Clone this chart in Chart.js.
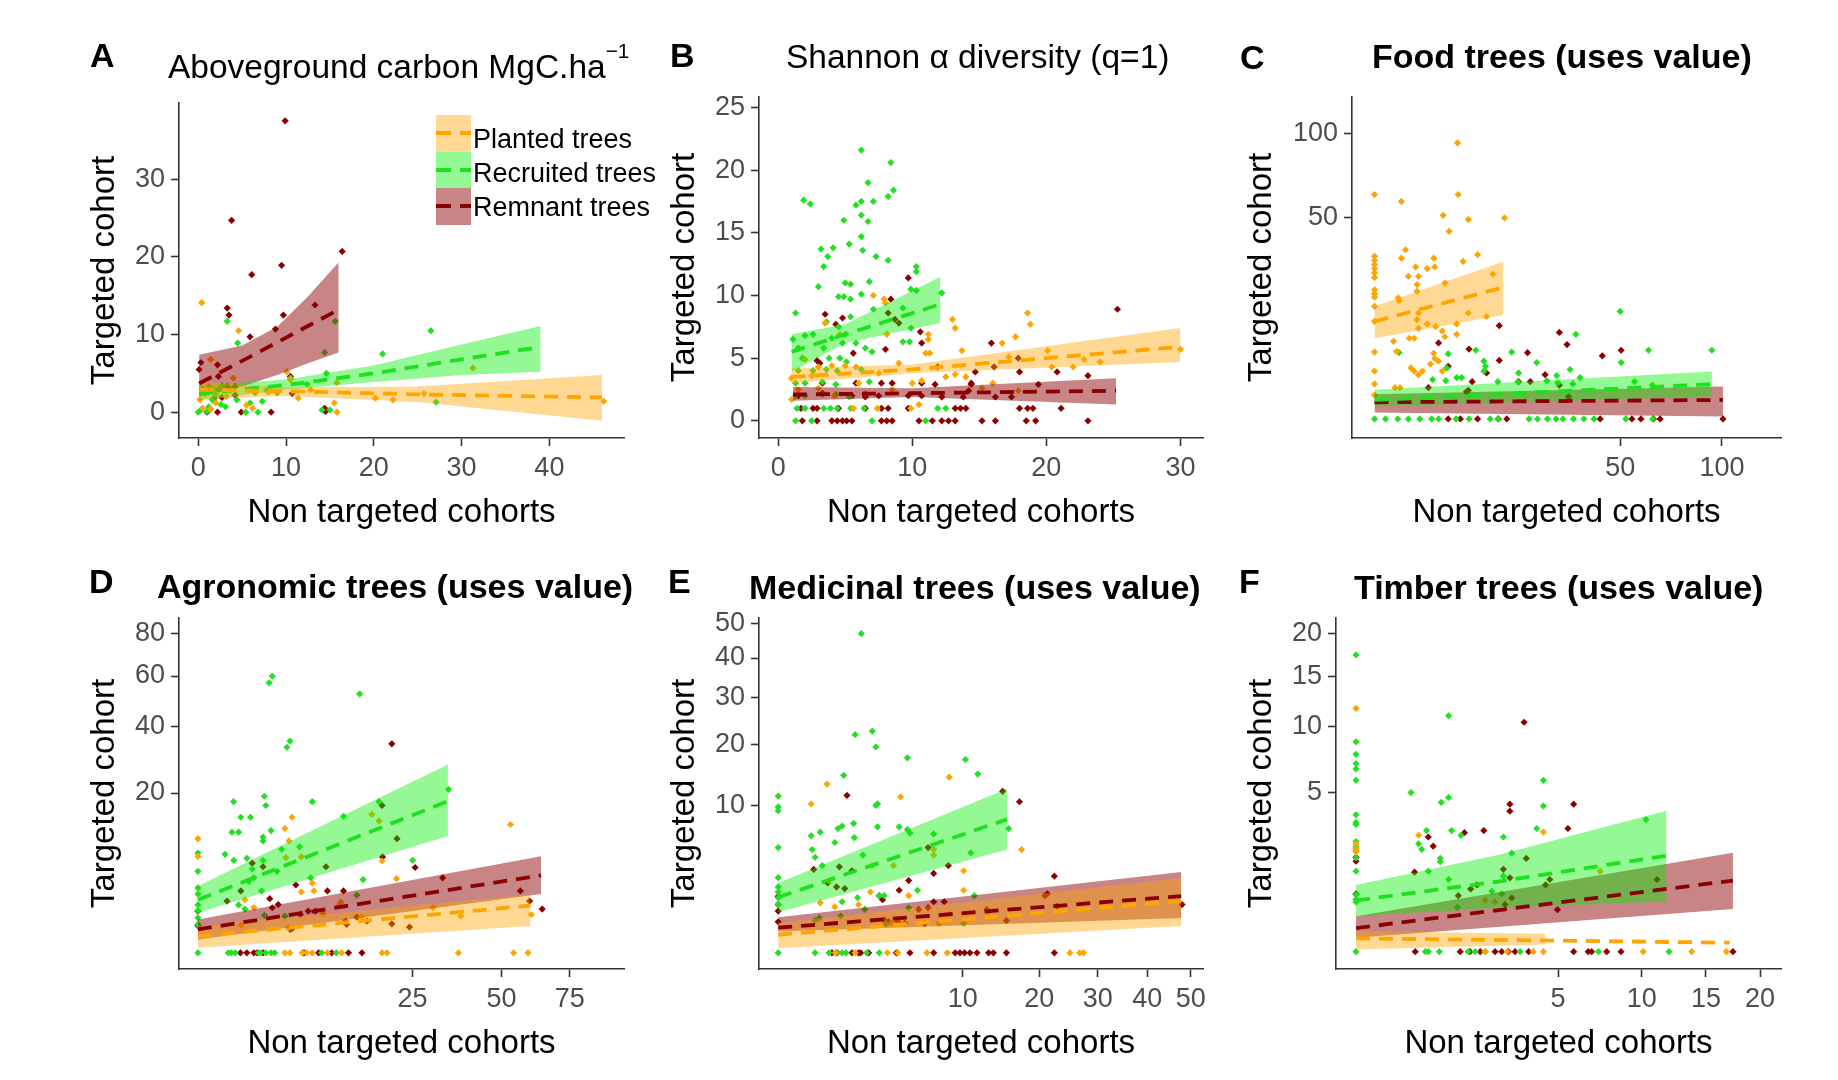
<!DOCTYPE html>
<html><head><meta charset="utf-8">
<script src="https://cdn.jsdelivr.net/npm/chart.js@4.4.1/dist/chart.umd.min.js"></script>
<style>
html,body{margin:0;padding:0;background:#fff;}
body{width:1838px;height:1080px;position:relative;overflow:hidden;font-family:"Liberation Sans",Arial,sans-serif;}
canvas{position:absolute;}
.t{position:absolute;white-space:nowrap;line-height:1;color:#000;}
.t sup{font-size:0.62em;vertical-align:baseline;position:relative;top:-0.95em;}
.key{position:absolute;width:35px;}
.key i{position:absolute;left:0;right:0;top:50%;height:4px;margin-top:-2px;}
</style></head><body>
<script>
// ---------------- DATA ----------------
const seriesNames = ['Planted trees', 'Recruited trees', 'Remnant trees'];
const xAxisTitle = 'Non targeted cohorts';
const yAxisTitle = 'Targeted cohort';
const panelTitles = ['Aboveground carbon MgC.ha', 'Shannon \u03B1 diversity (q=1)', 'Food trees (uses value)',
  'Agronomic trees (uses value)', 'Medicinal trees (uses value)', 'Timber trees (uses value)'];
const panelLetters = ['A', 'B', 'C', 'D', 'E', 'F'];

const A_xticks = [0, 10, 20, 30, 40], A_yticks = [0, 10, 20, 30];
const B_xticks = [0, 10, 20, 30], B_yticks = [0, 5, 10, 15, 20, 25];
const C_xticks = [50, 100], C_yticks = [50, 100];
const D_xticks = [25, 50, 75], D_yticks = [20, 40, 60, 80];
const E_xticks = [10, 20, 30, 40, 50], E_yticks = [10, 20, 30, 40, 50];
const F_xticks = [5, 10, 15, 20], F_yticks = [5, 10, 15, 20];

// points: [non targeted cohorts, targeted cohort]
const A_planted = [[0.4,14.1],[4.6,10.5],[1.4,6.8],[10.1,5.2],[31.3,5.7],[10.5,4.2],[15.8,3.8],[11.4,1.8],[20.2,1.8],[22.2,1.6],[25.7,2.4],[46.2,1.4],[15.8,0],[15.5,1.2],[5.5,0.9],[0.2,1.6],[0.8,2.4],[4.0,4.4],[1.4,0.4],[3.2,2.0],[2.0,1.2],[0.5,0.5],[8.0,2.6],[12.8,2.9],[6.2,0.5]];
const A_recruited = [[3.3,11.7],[15.6,11.7],[26.5,10.5],[4.5,8.9],[14.4,7.7],[21.0,7.5],[14.6,5.0],[10.5,4.4],[27.1,1.3],[6.5,2.5],[7.3,1.4],[5.9,1.2],[6.8,0],[0,0],[3.1,0.7],[14.1,0.3],[15.0,0.3],[4.4,1.6],[0.4,3.0],[0.8,2.4],[1.2,3.3],[1.6,1.6],[2.0,2.2],[2.3,2.9],[2.7,3.4],[1.2,0.7],[12.4,3.6],[5.4,0],[0.3,0.3],[1.0,0.1],[2.6,1.0],[7.8,2.8],[9.0,2.5]];
const A_remnant = [[9.9,37.5],[3.8,24.7],[6.1,17.7],[9.5,18.9],[16.4,20.7],[3.3,13.4],[3.5,12.5],[13.3,13.8],[9.7,12.5],[5.9,9.7],[8.8,10.7],[0.3,6.4],[0.1,5.5],[2.2,6.1],[2.3,4.6],[4.2,3.3],[3.6,2.9],[4.2,2.2],[10.5,4.6],[10.7,2.4],[1.8,1.8],[2.7,1.9],[1.0,0],[2.2,0],[4.9,0],[8.3,0],[14.4,0.5],[14.5,0.1],[3.3,3.3],[1.2,2.7]];
// fits: [x, fitted, lower, upper]
const A_planted_fit = [[0.1,2.9,1.7,3.9],[10,2.7,2.1,3.2],[25,2.3,1.3,3.3],[46,1.9,-1.1,4.8]];
const A_recruited_fit = [[0.1,2.4,1.5,3.4],[10,3.5,2.9,4.2],[20,5.0,3.9,6.0],[30,6.8,4.8,8.7],[39,8.4,5.2,11.1]];
const A_remnant_fit = [[0.1,3.7,2.0,7.4],[5,6.6,3.3,8.6],[9,9.0,4.8,11.0],[12.5,11.1,6.3,14.9],[16,13.2,7.7,19.3]];

const B_planted = [[30.0,5.7],[18.6,8.6],[18.8,7.7],[13.0,8.1],[13.2,7.4],[17.7,6.7],[16.7,6.2],[13.7,5.6],[20.1,5.6],[20.4,4.3],[22.0,4.3],[17.2,5.1],[7.9,9.7],[8.0,9.4],[7.1,10.0],[11.2,6.9],[11.2,6.5],[11.0,5.4],[11.3,5.4],[12.5,3.5],[13.2,3.7],[14.0,3.5],[10.5,1.3],[10.7,3.2],[3.5,7.8],[4.6,6.9],[2.0,4.9],[1.0,3.4],[1.0,1.7],[17.9,2.4],[3.0,4.3],[4.0,4.4],[5.0,4.4],[5.8,4.3],[8.1,6.9],[2.5,3.6],[6.0,3.0],[7.5,3.8],[9.0,4.6],[15.2,2.6],[16.0,3.0],[24.0,4.7],[22.8,4.9],[1.5,2.5],[4.2,2.0],[6.5,2.2],[8.5,2.5],[10.0,3.0],[7.4,1],[9.9,1],[5.6,1],[3.0,2.6]];
const B_recruited = [[6.2,21.6],[8.4,20.6],[6.7,19.0],[8.6,18.4],[8.2,17.9],[1.9,17.6],[2.4,17.3],[5.8,17.2],[6.2,17.5],[7.1,17.5],[6.2,16.4],[4.9,16.0],[6.7,15.9],[6.2,14.7],[5.3,14.1],[3.2,13.7],[4.1,13.8],[3.7,13.1],[6.3,13.6],[7.3,13.1],[8.2,12.8],[3.4,12.3],[10.3,12.3],[10.3,11.9],[3.0,10.7],[6.8,11.1],[5.0,11.0],[5.4,10.9],[9.9,10.5],[10.3,10.4],[4.5,9.9],[4.9,9.9],[5.4,9.7],[6.2,10.1],[12.2,10.2],[1.3,8.6],[7.1,8.9],[9.3,9.0],[1.1,6.5],[2.0,6.8],[2.6,6.9],[3.6,7.9],[4.5,7.5],[5.0,6.9],[5.4,8.3],[4.8,6.2],[4.0,6.6],[5.8,6.2],[6.5,5.8],[7.0,5.5],[9.3,6.3],[9.8,6.3],[9.9,7.4],[1.5,5.8],[1.8,5.0],[3.4,5.8],[3.8,5.0],[4.6,5.0],[5.1,4.7],[1.3,2.0],[2.0,2.0],[3.3,2.1],[4.3,2.1],[5.3,1.9],[1.3,3.0],[2.0,3.0],[3.3,3.1],[4.3,2.9],[6.8,3.1],[1.5,4.0],[2.6,4.0],[3.6,4.1],[4.4,4.0],[6.2,4.1],[1.4,1],[2.0,1],[3.4,1],[3.9,1],[4.4,1],[5.4,1],[6.4,1],[11.9,1],[12.5,1],[1.3,0],[2.5,0],[7.0,0],[11.0,0]];
const B_remnant = [[25.3,8.9],[9.7,11.4],[8.4,9.7],[8.2,8.6],[8.7,8.1],[9.0,7.8],[3.5,8.5],[4.3,7.7],[4.8,8.2],[10.6,7.1],[10.7,6.2],[2.9,4.8],[3.1,4.6],[5.6,5.4],[8.0,5.7],[11.9,4.3],[15.9,6.2],[16.1,4.3],[14.7,3.9],[17.9,5.0],[18.0,3.9],[19.4,2.9],[20.8,3.9],[23.1,3.6],[14.4,2.9],[14.2,2.4],[17.4,1.9],[1.5,2],[3.3,2.2],[5.5,2],[6.5,1.9],[7.5,2],[9.7,2],[10.7,2],[12.2,1.9],[13.8,1.9],[16.2,1.9],[3.3,3],[5.8,3],[7.7,3],[8.5,3],[10.7,3],[11.7,2.9],[14.4,3],[1.7,1],[2.6,1],[2.9,1],[4.5,1],[6.5,1],[7.7,1],[8.2,1],[9.7,1],[13.2,1],[13.6,1],[14.0,1],[18.0,1],[18.6,1],[19.0,1],[21.1,1],[1.8,0],[2.9,0],[4.0,0],[4.4,0],[4.8,0],[5.1,0],[5.5,0],[7.7,0],[8.1,0],[8.5,0],[10.5,0],[11.5,0],[12.2,0],[12.7,0],[13.2,0],[15.2,0],[16.2,0],[18.5,0],[19.2,0],[23.1,0]];
const B_planted_fit = [[1.0,3.5,3.0,4.2],[10,4.1,3.8,4.5],[30,5.9,4.7,7.4]];
const B_recruited_fit = [[1.0,5.5,3.9,6.9],[5,6.9,6.2,7.7],[12.1,9.3,7.8,11.5]];
const B_remnant_fit = [[1.1,2.1,1.6,2.7],[10,2.2,1.9,2.6],[25.2,2.4,1.3,3.4]];

const C_planted = [[5.7,93.7],[0,61.9],[0.6,58.2],[5.8,61.9],[3.9,51.0],[7.3,48.9],[14.0,49.7],[4.6,43.3],[0.8,35.2],[0.6,31.8],[2.9,31.8],[6.5,30.5],[8.8,33.2],[1.4,28.4],[2.3,27.8],[3.0,28.4],[0.95,25.0],[1.6,25.0],[4.1,22.7],[11.6,25.8],[0,32.5],[0,30.9],[0,29.3],[0,27.8],[0,26.2],[0,24.6],[0,20.5],[0,19.3],[0,18.2],[0,15.6],[0.47,18.0],[0.5,17.2],[1.5,22.2],[1.5,20.0],[7.3,13.8],[10.4,12.9],[0,11.7],[1.6,13.8],[1.5,12.1],[1.6,10.1],[2.3,11.1],[3.1,10.5],[3.8,9.5],[4.1,8.3],[5.6,11.1],[5.6,8.8],[0.3,7.4],[0.4,5.6],[1.0,8.0],[1.3,8.0],[0,5.5],[0,2.8],[0,1.5],[0,0.7],[2.9,5.3],[3.0,4.5],[3.4,4.1],[1.1,3.2],[1.3,2.8],[1.6,2.4],[1.9,2.8],[0.35,1.2],[0.54,1.2],[2.6,3.7],[3.8,2.8]];
const C_recruited = [[50.0,14.2],[33.6,8.8],[94.3,5.8],[62.2,5.8],[50.4,3.9],[0.5,5.4],[4.5,5.2],[8.5,5.8],[15.6,5.5],[21.8,3.9],[31.7,3.0],[9.9,4.1],[10.2,3.4],[9.9,2.8],[4.3,3.2],[17.2,2.6],[27.5,2.3],[35.0,2.1],[5.6,2.1],[6.3,2.1],[2.8,1.9],[4.2,1.8],[12.6,1.7],[17.0,1.7],[24.6,1.8],[27.8,1.6],[32.6,1.5],[56.0,1.7],[64.0,1.4],[0,0],[0.1,0],[0.45,0],[0.95,0],[1.7,0],[2.7,0],[3.4,0],[5.5,0],[7.4,0],[11.1,0],[12.6,0],[19.8,0],[22.0,0],[24.8,0],[27.3,0],[29.4,0],[32.8,0],[36.3,0],[39.9,0],[52.3,0],[64.1,0]];
const C_remnant = [[12.9,10.7],[28.3,9.2],[30.7,6.8],[43.0,4.9],[50.4,5.8],[3.4,7.1],[4.5,3.4],[7.4,6.0],[12.9,4.2],[19.4,5.4],[2.4,1.2],[7.9,1.7],[10.4,2.6],[17.2,1.7],[20.1,1.7],[24.1,2.4],[28.3,1.4],[31.2,0.6],[7.3,1.0],[7.0,0.9],[4.5,0],[6.1,0],[8.8,0],[12.7,0],[14.5,0],[42.2,0],[54.9,0],[58.8,0],[64.5,0],[67.6,0],[100.6,0]];
const C_planted_fit = [[0,11.7,8.0,15.6],[13.8,21.3,13.3,30.5]];
const C_recruited_fit = [[0,0.44,0.19,1.04],[94.3,1.48,0.62,2.76]];
const C_remnant_fit = [[0,0.34,0.05,0.75],[100.6,0.44,0.007,1.29]];

const D_planted = [[0,10.2],[0,7.3],[4.8,14.4],[4.1,12.1],[4.5,9.8],[5.8,7.2],[4.2,7.1],[16.4,15.0],[17.8,13.6],[53.0,12.9],[18.4,6.6],[21.4,4.3],[5.8,2.9],[7.1,3.8],[7.3,3.0],[1.7,1.6],[1.2,2.2],[11.1,2.0],[10.9,1.8],[37.5,1.05],[60.3,1.15],[4.4,0.49],[1.0,0.6],[14.5,1.0],[8.5,1.2],[30.0,1.6],[4.1,0],[4.6,0],[5.9,0],[6.4,0],[7.1,0],[9.1,0],[11.2,0],[18.4,0],[19.4,0],[36.8,0],[54.1,0],[59.1,0]];
const D_recruited = [[3.0,59.9],[2.75,57.1],[14.2,52.5],[4.6,35.1],[4.3,33.1],[34.1,20.9],[0.69,17.9],[2.4,19.2],[2.5,17.0],[7.1,17.9],[11.5,14.6],[17.8,17.9],[1.0,14.4],[1.5,14.4],[0.63,11.4],[0.9,11.4],[2.3,10.5],[2.3,9.8],[2.9,11.7],[0.4,7.6],[0.7,6.7],[1.3,7.0],[3.8,8.4],[5.6,8.8],[2.3,6.7],[25,6.7],[14.8,4.2],[6.9,4.4],[0,7.8],[0,5.2],[0,3.3],[0,2.7],[0,1.8],[0,1.4],[0,0.96],[0,0.63],[0.9,1.8],[1.2,1.5],[1.4,4.0],[1.7,4.4],[2.2,3.0],[2.4,1.1],[13.7,2.6],[4.1,1.05],[1.6,5.5],[3.4,5.2],[0,0],[0.5,0],[0.6,0],[0.75,0],[2.0,0],[2.1,0],[2.5,0],[2.9,0],[3.2,0],[8.3,0],[10.4,0]];
const D_remnant = [[20.4,34.2],[18.4,17.0],[21.5,10.2],[18.5,7.2],[25.6,5.7],[1.6,6.3],[2.3,5.8],[1.0,3.0],[0.46,2.1],[2.8,2.3],[5.2,3.6],[8.9,5.8],[9.1,3.0],[11.5,3.0],[32.5,4.4],[56.4,3.0],[59.7,2.1],[64.3,1.5],[24.3,0.52],[4.6,0.43],[4.8,0.45],[5.7,1.15],[6.6,1.36],[7.5,1.36],[11.8,0.79],[12.0,0.63],[13.7,1.0],[15.5,0.79],[20.4,0.66],[0,1.36],[0,0.58],[3.0,1.59],[3.5,1.83],[0.98,0],[1.3,0],[1.7,0],[1.9,0],[2.3,0],[6.1,0],[7.9,0],[9.7,0],[12.3,0],[14.6,0]];
const D_planted_fit = [[0,0.22,0.02,0.56],[60,1.75,0.56,2.67]];
const D_recruited_fit = [[0,2.2,1.25,3.5],[33.9,18.0,10.7,27.8]];
const D_remnant_fit = [[0,0.43,0.14,0.87],[63.9,4.7,2.7,7.3]];

const E_planted = [[0.7,13.1],[0.32,10.2],[4.4,11.2],[8.6,14.2],[17.4,4.9],[7.1,4.9],[7.1,4.4],[10.1,3.1],[10.1,1.8],[2.6,3.5],[3.9,3.5],[0.77,2.4],[0.52,1.15],[0.94,0.97],[2.5,1.7],[5.0,1.5],[1.9,1.07],[7.6,0.39],[3.8,0.41],[0.96,0],[1.74,0],[3.5,0],[4.2,0],[6.5,0],[8.4,0],[25.0,0],[26.7,0],[27.4,0]];
const E_recruited = [[2.03,46.9],[1.74,21.9],[2.6,22.6],[2.8,19.5],[4.9,17.5],[10.3,17.2],[11.7,14.7],[1.26,14.5],[0,11.3],[0,9.8],[0,9.3],[2.8,10.0],[2.9,10.2],[0.32,6.3],[0.52,6.7],[1.05,7.1],[1.2,7.4],[1.67,7.7],[1.7,6.1],[2.9,7.3],[4.3,7.3],[4.9,7.0],[5.1,6.6],[0,5.1],[0.34,4.9],[0.4,4.2],[0.94,5.6],[2.1,4.4],[0.57,3.5],[7.1,6.5],[10.9,4.6],[15.6,7.1],[11.3,1.5],[5.7,1.8],[5.0,0.93],[3.3,1.5],[3.0,1.5],[1.85,1.4],[2.2,0.87],[1.2,1.2],[1.15,0.62],[0.4,0.48],[0.5,0.56],[10.1,0.39],[13.0,0.8],[0,2.6],[0,2.0],[0,1.7],[0,1.4],[0,1.07],[3.4,0.39],[0,0],[0.4,0],[0.76,0],[1.0,0],[1.2,0],[1.35,0],[2.3,0],[3.0,0]];
const E_remnant = [[14.8,12.0],[17.1,10.5],[1.39,11.4],[6.6,5.1],[8.5,3.5],[7.1,2.9],[0.37,3.2],[1.1,3.4],[1.6,3.1],[1.0,2.0],[1.3,1.9],[0.72,2.25],[5.0,2.4],[4.3,1.8],[3.0,1.5],[3.2,1.3],[5.8,0.86],[6.6,0.93],[7.1,1.2],[8.1,1.2],[22.4,2.7],[20.9,1.5],[21.3,1.6],[22.8,1.0],[47.9,1.07],[15.3,0.48],[3.3,0.5],[3.6,0.45],[4.2,0.45],[4.7,0.4],[6.3,0.39],[0,1.47],[0,1.07],[0,0.80],[0,0.44],[12.8,0.86],[0.85,0],[1.02,0],[1.6,0],[1.9,0],[2.0,0],[2.4,0],[4.1,0],[5.1,0],[7.1,0],[9.2,0],[9.7,0],[10.2,0],[10.8,0],[11.6,0],[13.0,0],[13.6,0],[15.3,0],[22.4,0]];
const E_planted_fit = [[0,0.15,0.01,0.41],[47.7,1.23,0.33,2.58]];
const E_recruited_fit = [[0,1.42,0.76,2.25],[15.4,8.2,4.9,12.4]];
const E_remnant_fit = [[0,0.29,0.21,0.58],[47.7,1.48,0.56,3.0]];

const F_planted = [[0,11.7],[0.48,2.68],[4.3,2.83],[7.3,1.28],[2.04,0.52],[2.37,0.49],[0,2.3],[0,2.1],[0,1.97],[2.04,0],[2.8,0],[3.85,0],[4.3,0],[10.1,0],[13.8,0],[16.8,0]];
const F_recruited = [[0,17.4],[1.05,11.0],[0,8.7],[0,7.7],[0,7.0],[0,6.6],[0,5.8],[0.37,5.0],[1.05,4.7],[0.89,4.4],[4.3,5.8],[4.3,4.2],[0,3.7],[0,3.3],[0,3.2],[0,2.4],[0,2.17],[0,2.0],[0,1.74],[0,1.28],[0.61,2.9],[1.12,2.9],[0.48,2.3],[0.53,2.07],[1.35,2.67],[4.0,3.0],[2.66,2.6],[0.87,1.6],[0.87,1.72],[0.64,1.28],[2.97,1.92],[1.05,1.03],[2.66,1.13],[2.26,0.72],[2.6,0.66],[1.26,0.39],[10.3,3.45],[0,0.64],[0,0.54],[0,0.49],[0,0],[0.59,0],[0.64,0],[0.85,0],[1.54,0],[1.74,0],[2.05,0],[3.3,0],[7.2,0],[12.0,0]];
const F_remnant = [[3.46,10.4],[2.9,4.3],[2.9,3.9],[5.8,4.3],[5.5,3.0],[2.0,2.9],[1.44,2.8],[0.64,2.6],[0.73,2.2],[0.42,1.25],[3.55,1.72],[2.66,1.34],[2.9,1.08],[4.6,1.03],[4.4,0.88],[11.1,1.03],[1.61,0.78],[1.79,0.88],[1.28,0.62],[2.97,0.57],[2.72,0.44],[4.97,0.35],[0,1.76],[0,1.62],[0,0.66],[0.43,0],[1.33,0],[1.59,0],[1.89,0],[2.37,0],[2.6,0],[2.84,0],[3.1,0],[3.65,0],[5.8,0],[6.6,0],[6.8,0],[7.7,0],[8.6,0],[17.4,0]];
const F_planted_fit = [[0,0.035,0.001,0.083],[4.4,0.025,0.01,0.063],[17.1,0.016,null,null]];
const F_recruited_fit = [[0,0.52,0.25,0.88],[2.54,0.98,0.38,1.87],[11.8,1.82,0.5,3.93]];
const F_remnant_fit = [[0,0.11,0.038,0.25],[17.4,1.0,0.36,1.93]];

// ---------------- STYLE / LAYOUT ----------------
const FONT = '"Liberation Sans", Arial, sans-serif';
const STY = [
  {pt: '#FFA500', line: '#FFA500', band: 'rgba(255,165,0,0.42)', ribbonOrder: 7},
  {pt: '#22E022', line: '#1EE01E', band: 'rgba(0,238,0,0.42)', ribbonOrder: 8},
  {pt: '#8B0000', line: '#8B0000', band: 'rgba(139,0,0,0.48)', ribbonOrder: 9}
];
const PT = 30, PR = 30, XH = 95;

// sign-preserving square-root scale (ggplot scale_*_sqrt look)
const sgnSqrt = v => v < 0 ? -Math.sqrt(-v) : Math.sqrt(v);
class SqrtScale extends Chart.LinearScale {
  buildTicks() { return (this.options.tickValues || []).map(v => ({value: v})); }
  configure() {
    super.configure();
    this._sStart = sgnSqrt(this.min);
    this._sRange = sgnSqrt(this.max) - this._sStart;
  }
  getPixelForValue(value) {
    if (value === null || value === undefined || isNaN(value)) return NaN;
    return this.getPixelForDecimal((sgnSqrt(value) - this._sStart) / this._sRange);
  }
  getValueForPixel(pixel) {
    const s = this._sStart + this.getDecimalForPixel(pixel) * this._sRange;
    return s < 0 ? -s * s : s * s;
  }
}
SqrtScale.id = 'sqrt';
SqrtScale.defaults = {};
Chart.register(SqrtScale);

const panels = [
  {area: [179, 103, 624, 438], yw: 94, type: 'linear', xr: [-2.19, 48.5], yr: [-3.32, 39.8], xt: A_xticks, yt: A_yticks,
   series: [[A_planted, A_planted_fit], [A_recruited, A_recruited_fit], [A_remnant, A_remnant_fit]]},
  {area: [759, 97, 1203, 438], yw: 94, type: 'linear', xr: [-1.43, 31.68], yr: [-1.37, 25.83], xt: B_xticks, yt: B_yticks,
   series: [[B_planted, B_planted_fit], [B_recruited, B_recruited_fit], [B_remnant, B_remnant_fit]]},
  {area: [1352, 97, 1781, 438], yw: 110, type: 'sqrt', xr: [-0.42, 136.9], yr: [-0.45, 127.5], xt: C_xticks, yt: C_yticks,
   series: [[C_planted, C_planted_fit], [C_recruited, C_recruited_fit], [C_remnant, C_remnant_fit]]},
  {area: [179, 618, 624, 969], yw: 94, type: 'sqrt', xr: [-0.194, 98.5], yr: [-0.205, 87.8], xt: D_xticks, yt: D_yticks,
   series: [[D_planted, D_planted_fit], [D_recruited, D_recruited_fit], [D_remnant, D_remnant_fit]]},
  {area: [759, 618, 1203, 969], yw: 94, type: 'sqrt', xr: [-0.108, 53.0], yr: [-0.121, 51.6], xt: E_xticks, yt: E_yticks,
   series: [[E_planted, E_planted_fit], [E_recruited, E_recruited_fit], [E_remnant, E_remnant_fit]]},
  {area: [1336, 618, 1781, 969], yw: 94, type: 'sqrt', xr: [-0.049, 22.12], yr: [-0.059, 22.0], xt: F_xticks, yt: F_yticks,
   series: [[F_planted, F_planted_fit], [F_recruited, F_recruited_fit], [F_remnant, F_remnant_fit]]}
];

function buildDatasets(series) {
  const ds = [];
  series.forEach((s, i) => ds.push({
    data: s[0].map(p => ({x: p[0], y: p[1]})), showLine: false, pointStyle: 'rectRot',
    pointRadius: 3.6, pointBorderWidth: 0, pointBackgroundColor: STY[i].pt, borderColor: STY[i].pt, order: 10
  }));
  series.forEach((s, i) => {
    const rows = s[1].filter(r => r[2] !== null);
    ds.push({data: rows.map(r => ({x: r[0], y: r[2]})), borderWidth: 0, pointRadius: 0, fill: false,
      borderColor: 'rgba(0,0,0,0)', order: STY[i].ribbonOrder});
    ds.push({data: rows.map(r => ({x: r[0], y: r[3]})), borderWidth: 0, pointRadius: 0, fill: '-1',
      borderColor: 'rgba(0,0,0,0)', backgroundColor: STY[i].band, order: STY[i].ribbonOrder});
  });
  series.forEach((s, i) => ds.push({
    data: s[1].map(r => ({x: r[0], y: r[1]})), borderColor: STY[i].line, borderWidth: 3.8,
    borderDash: [14, 9], pointRadius: 0, fill: false, order: 1
  }));
  return ds;
}

function axisOpts(p, isX) {
  const ticksArr = isX ? p.xt : p.yt;
  const r = isX ? p.xr : p.yr;
  return {
    type: p.type, min: r[0], max: r[1], bounds: 'data', tickValues: ticksArr,
    afterBuildTicks: s => { s.ticks = ticksArr.map(v => ({value: v})); },
    afterFit: s => { if (isX) s.height = XH; else s.width = p.yw; },
    ticks: {callback: v => String(v), font: {size: 27, family: FONT}, color: '#4D4D4D',
      padding: 6, maxRotation: 0, minRotation: 0, autoSkip: false},
    grid: {display: true, drawOnChartArea: false, drawTicks: true, tickLength: 8, tickColor: '#333', tickWidth: 1.6},
    border: {display: true, color: '#333', width: 1.6},
    title: {display: true, text: isX ? xAxisTitle : yAxisTitle, font: {size: 33, family: FONT}, color: '#000', padding: 0}
  };
}

panels.forEach((p, k) => {
  const [L, T, R, B] = p.area;
  const cv = document.createElement('canvas');
  const w = p.yw + (R - L) + PR, h = PT + (B - T) + XH;
  cv.width = w; cv.height = h;
  cv.style.left = (L - p.yw) + 'px'; cv.style.top = (T - PT) + 'px';
  cv.style.width = w + 'px'; cv.style.height = h + 'px';
  document.body.appendChild(cv);
  new Chart(cv, {
    type: 'line',
    data: {datasets: buildDatasets(p.series)},
    options: {
      responsive: false, animation: false, devicePixelRatio: 1, events: [],
      layout: {padding: {left: 0, top: PT, right: PR, bottom: 0}},
      plugins: {legend: {display: false}, tooltip: {enabled: false}, title: {display: false}},
      scales: {x: axisOpts(p, true), y: axisOpts(p, false)}
    }
  });
});

// ---------------- TEXT (titles, letters, legend) ----------------
function txt(html, left, capCenter, size, bold) {
  const d = document.createElement('div');
  d.className = 't';
  d.style.left = left + 'px';
  d.style.top = (capCenter - 0.4885 * size) + 'px';
  d.style.fontSize = size + 'px';
  if (bold) d.style.fontWeight = 'bold';
  d.innerHTML = html;
  document.body.appendChild(d);
  return d;
}
const titleLayout = [
  {x: 168, y: 66, s: 33.5, b: false, sup: true}, {x: 786, y: 56, s: 33.5, b: false},
  {x: 1372, y: 56, s: 34, b: true}, {x: 157, y: 586, s: 34, b: true},
  {x: 749, y: 587, s: 34, b: true}, {x: 1354, y: 587, s: 34, b: true}
];
titleLayout.forEach((t, i) => {
  const html = panelTitles[i] + (t.sup ? '<sup>\u22121</sup>' : '');
  txt(html, t.x, t.y, t.s, t.b);
});
const letterLayout = [[90, 55], [670, 55], [1240, 57], [89, 581], [668, 581], [1239, 581]];
letterLayout.forEach((l, i) => txt(panelLetters[i], l[0], l[1], 34, true));

// legend (panel A)
const keyTops = [115, 151.5, 188];
const textCenters = [139.5, 173.5, 207.5];
seriesNames.forEach((name, i) => {
  const k = document.createElement('div');
  k.className = 'key';
  k.style.left = '436px'; k.style.top = keyTops[i] + 'px'; k.style.height = '36.5px';
  k.style.background = STY[i].band;
  const ln = document.createElement('i');
  ln.style.background = 'repeating-linear-gradient(90deg,' + STY[i].line + ' 0 15px, rgba(0,0,0,0) 15px 24px)';
  k.appendChild(ln);
  document.body.appendChild(k);
  txt(name, 473, textCenters[i], 27, false);
});
</script>
</body></html>
